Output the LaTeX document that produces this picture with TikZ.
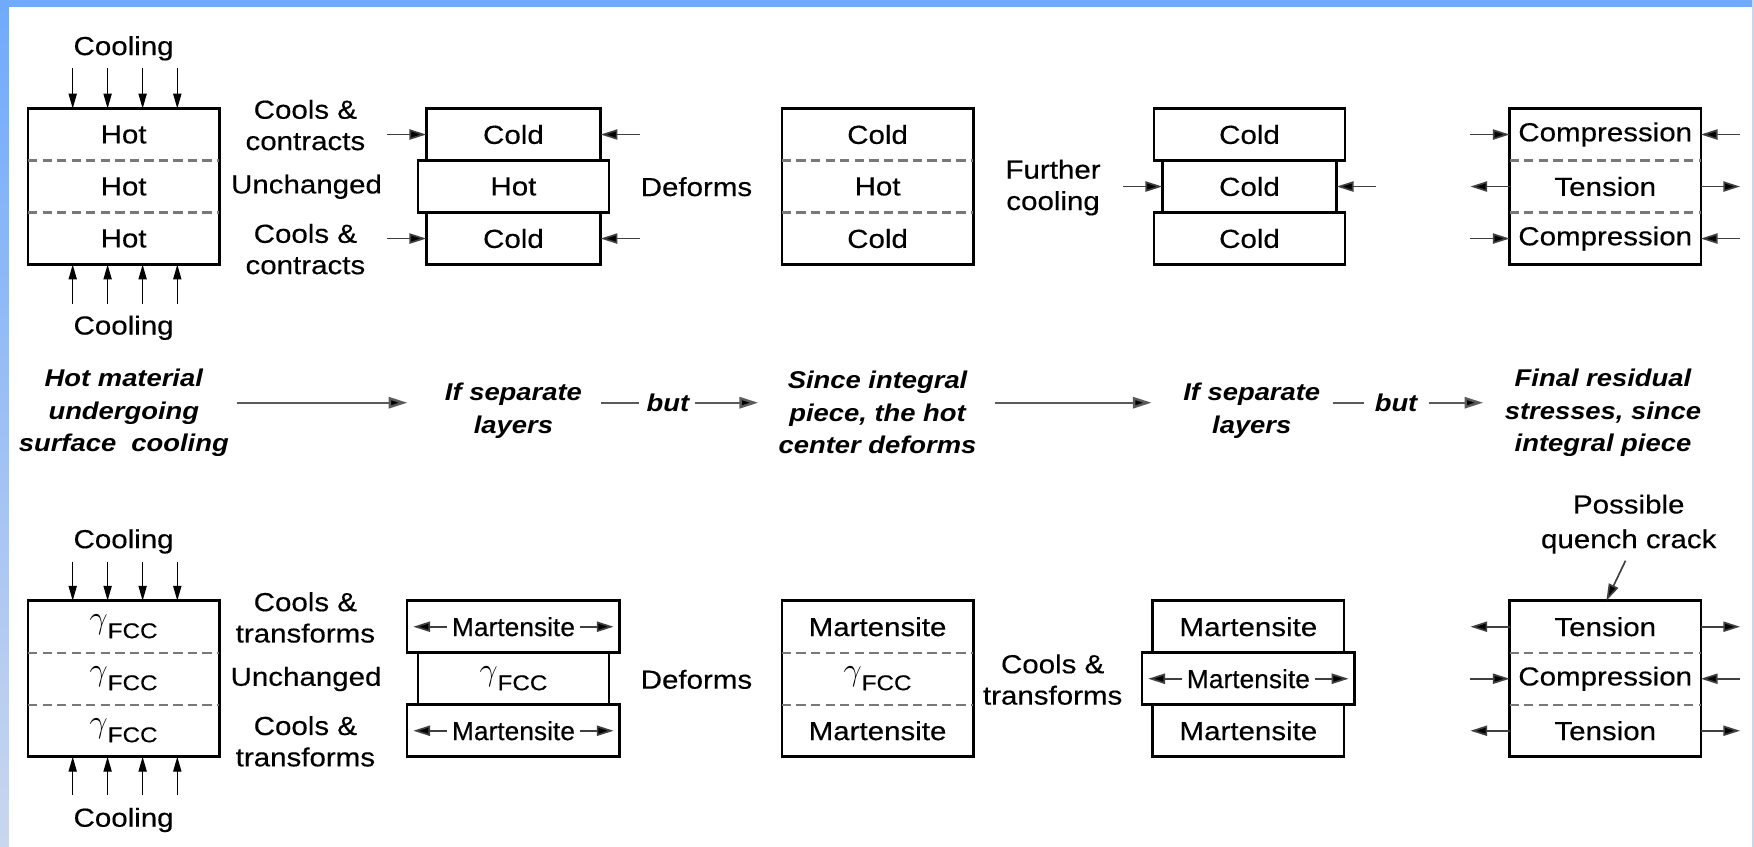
\documentclass[tikz,border=0pt]{standalone}
\usepackage{fontspec}
\setmainfont{Liberation Sans}[FakeStretch=1.13, UprightFeatures={FakeBold=0.35}]
\newfontfamily\narrowfont{Liberation Sans}[FakeStretch=1.01, FakeBold=0.35]
\usetikzlibrary{arrows.meta,positioning,calc}

\definecolor{frameblue}{RGB}{112,170,252}
\definecolor{framepale}{RGB}{202,214,238}
\definecolor{dashgray}{RGB}{120,120,120}
\definecolor{flowgray}{RGB}{90,90,90}

\newcommand\px{0.6pt}
\newcommand\gfcc{{\fontsize{17}{17}\selectfont$\gamma$}\raisebox{-5pt}{\fontsize{11.5}{12}\selectfont FCC}}

\tikzset{
  txt/.style={font=\fontsize{14}{16.8}\selectfont, align=center, inner sep=0pt},
  stagetxt/.style={font=\fontsize{13}{17.4}\selectfont\bfseries\itshape, align=center, inner sep=0pt},
  slab/.style={txt, minimum width=#1*\px, minimum height=46.5*\px, outer sep=0pt},
  slabbox/.style={slab=#1, draw, line width=1.4pt},
  rim/.style={line width=1.4pt},
  parting/.style={dashgray, line width=1.3pt, dash pattern=on 5pt off 2.8pt},
  squeeze/.style={-{Triangle[length=9pt,width=5.5pt,fill=black]}, line width=0.9pt, black!75},
  coolarr/.style={-{Triangle[length=8pt,width=4.4pt]}, line width=0.7pt},
  stageline/.style={line width=1.3pt, flowgray},
  stageflow/.style={stageline, -{Triangle[length=10pt,width=6pt,fill=black]}},
}

\begin{document}
\begin{tikzpicture}[x=0.6pt,y=-0.6pt]
  \useasboundingbox (0,0) rectangle (1568,757);
  % slide frame
  \fill[frameblue] (0,0) rectangle (1568,6);
  \shade[top color=frameblue, bottom color=framepale] (0,0) rectangle (8,757);
  \fill[framepale] (1566,0) rectangle (1568,757);

  % integral pieces with dashed layer boundaries
  \foreach \nm/\x/\y/\ta/\tb/\tc in {
      a/110.5/120.25/Hot/Hot/Hot,
      c/784.5/120.25/Cold/Hot/Cold,
      e/1435/120.25/Compression/Tension/Compression,
      f/110.5/560.25/\gfcc/\gfcc/\gfcc,
      h/784.5/560.25/Martensite/\gfcc/Martensite,
      j/1435/560.25/Tension/Compression/Tension} {
    \node[slab=171] (\nm1) at (\x,\y) {\ta};
    \node[slab=171, below=0pt of \nm1] (\nm2) {\tb};
    \node[slab=171, below=0pt of \nm2] (\nm3) {\tc};
    \draw[rim] (\nm1.north west) rectangle (\nm3.south east);
    \draw[parting] (\nm1.south west) -- (\nm1.south east);
    \draw[parting] (\nm2.south west) -- (\nm2.south east);
  }

  % separate layers
  \node[slabbox=156] (b1) at (459,120.25) {Cold};
  \node[slabbox=171, below=0pt of b1] (b2) {Hot};
  \node[slabbox=156, below=0pt of b2] (b3) {Cold};

  \node[slabbox=171] (d1) at (1117,120.25) {Cold};
  \node[slabbox=156, below=0pt of d1] (d2) {Cold};
  \node[slabbox=171, below=0pt of d2] (d3) {Cold};

  \node[slabbox=190] (g1) at (459,560.25) {};
  \node[slabbox=171, below=0pt of g1] (g2) {\gfcc};
  \node[slabbox=190, below=0pt of g2] (g3) {};
  \node[txt] (gm1) at (g1) {\narrowfont Martensite};
  \node[txt] (gm3) at (g3) {\narrowfont Martensite};

  \node[slabbox=171] (i1) at (1116,560.25) {Martensite};
  \node[slabbox=190, below=0pt of i1] (i2) {};
  \node[slabbox=171, below=0pt of i2] (i3) {Martensite};
  \node[txt] (im2) at (i2) {\narrowfont Martensite};

  \foreach \m/\s in {gm1/g1, gm3/g3, im2/i2} {
    \draw[squeeze, shorten <=2.5pt, shorten >=3.3pt] (\m.west) -- (\s.west);
    \draw[squeeze, shorten <=2.5pt, shorten >=3.3pt] (\m.east) -- (\s.east);
  }

  % side forces
  \foreach \s in {b1,b3,d2,e1,e3,j2} {
    \draw[squeeze] ([xshift=-21pt]\s.west) -- (\s.west);
    \draw[squeeze] ([xshift=21pt]\s.east) -- (\s.east);
  }
  \foreach \s in {e2,j1,j3} {
    \draw[squeeze] (\s.west) -- ([xshift=-21pt]\s.west);
    \draw[squeeze] (\s.east) -- ([xshift=21pt]\s.east);
  }

  % surface cooling
  \node[txt] (cool1) at (110.5,43.2) {Cooling};
  \node[txt] (cool2) at (110.5,293) {Cooling};
  \node[txt] (cool3) at (110.5,484) {Cooling};
  \node[txt] (cool4) at (110.5,733) {Cooling};
  \foreach \dx in {-45.5,-14.3,17,48} {
    \draw[coolarr] ($(a1.north)+(\dx,-36)$) -- ($(a1.north)+(\dx,0)$);
    \draw[coolarr] ($(a3.south)+(\dx,35)$) -- ($(a3.south)+(\dx,0)$);
    \draw[coolarr] ($(f1.north)+(\dx,-35)$) -- ($(f1.north)+(\dx,0)$);
    \draw[coolarr] ($(f3.south)+(\dx,34)$) -- ($(f3.south)+(\dx,0)$);
  }

  % step labels
  \node[txt] (cc1) at (273,111.8) {Cools \&\\contracts};
  \node[txt] (un1) at (274,166.9) {Unchanged};
  \node[txt] (cc2) at (273,222.7) {Cools \&\\contracts};
  \node[txt] (def1) at (622.6,166.9) {Deforms};
  \node[txt] (fc) at (941.4,167.7) {Further\\cooling};

  \node[txt] (tr1) at (273,552) {Cools \&\\transforms};
  \node[txt] (un2) at (273.6,607) {Unchanged};
  \node[txt] (tr2) at (273,662.7) {Cools \&\\transforms};
  \node[txt] (def2) at (622.6,607.3) {Deforms};
  \node[txt] (tr3) at (941,607.5) {Cools \&\\transforms};

  \node[txt] (crack) at (1456,468.5) {Possible\\[1.8pt]quench crack};
  \coordinate (crackpt) at (1436,537);
  \draw[squeeze, shorten <=4pt] (crack.south) -- (crackpt);

  % sequence of stages
  \node[stagetxt] (hotm) at (110.7,369) {Hot material\\undergoing\\surface\ \ cooling};
  \node[stagetxt] (sep1) at (459,367) {If separate\\layers};
  \node[stagetxt] (but1) at (597,360) {but};
  \node[stagetxt] (integ) at (784.5,369) {Since integral\\piece, the hot\\center deforms};
  \node[stagetxt] (sep2) at (1119,367) {If separate\\layers};
  \node[stagetxt] (but2) at (1248,360) {but};
  \node[stagetxt] (final) at (1433,369) {Final residual\\stresses, since\\integral piece};

  \draw[stageflow, shorten <=4pt, shorten >=20pt] (hotm.east |- but1.west) -- (sep1.west |- but1.west);
  \draw[stageline, shorten <=10pt, shorten >=3.6pt] (sep1.east |- but1.west) -- (but1.west);
  \draw[stageflow, shorten <=3pt, shorten >=10.8pt] (but1.east) -- (integ.west |- but1.east);
  \draw[stageflow, shorten <=9.6pt, shorten >=16.8pt] (integ.east |- but2.west) -- (sep2.west |- but2.west);
  \draw[stageline, shorten <=6.6pt, shorten >=5.4pt] (sep2.east |- but2.west) -- (but2.west);
  \draw[stageflow, shorten <=6pt, shorten >=11.4pt] (but2.east) -- (final.west |- but2.east);
\end{tikzpicture}
\end{document}
